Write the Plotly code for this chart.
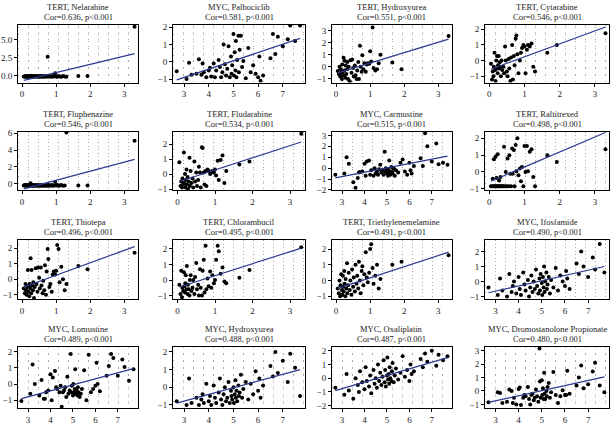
import plotly.graph_objects as go

# ---------------- data ----------------
titles = ["TERT, Nelarabine", "MYC, Palbociclib", "TERT, Hydroxyurea", "TERT, Cytarabine",
          "TERT, Fluphenazine", "TERT, Fludarabine", "MYC, Carmustine", "TERT, Raltitrexed",
          "TERT, Thiotepa", "TERT, Chlorambucil", "TERT, Triethylenemelamine", "MYC, Ifosfamide",
          "MYC, Lomustine", "MYC, Hydroxyurea", "MYC, Oxaliplatin", "MYC, Dromostanolone Propionate"]
stats = ["Cor=0.636, p<0.001", "Cor=0.581, p<0.001", "Cor=0.551, p<0.001", "Cor=0.546, p<0.001",
         "Cor=0.546, p<0.001", "Cor=0.534, p<0.001", "Cor=0.515, p<0.001", "Cor=0.498, p<0.001",
         "Cor=0.496, p<0.001", "Cor=0.495, p<0.001", "Cor=0.491, p<0.001", "Cor=0.490, p<0.001",
         "Cor=0.489, p<0.001", "Cor=0.488, p<0.001", "Cor=0.487, p<0.001", "Cor=0.480, p<0.001"]
gene = ["TERT", "MYC", "TERT", "TERT", "TERT", "TERT", "MYC", "TERT",
        "TERT", "TERT", "TERT", "MYC", "MYC", "MYC", "MYC", "MYC"]

tert_x = [0.05, 0.08, 0.10, 0.12, 0.13, 0.15, 0.17, 0.18, 0.20, 0.21, 0.22, 0.24, 0.25, 0.27, 0.28,
          0.30, 0.32, 0.33, 0.35, 0.37, 0.40, 0.42, 0.45, 0.47, 0.50, 0.52, 0.55, 0.57, 0.60, 0.62,
          0.65, 0.67, 0.70, 0.72, 0.75, 0.77, 0.80, 0.83, 0.87, 0.90, 0.93, 0.97, 1.00, 1.03, 1.07,
          1.10, 1.15, 1.20, 1.25, 1.30, 1.65, 1.92, 3.30]
myc_x = [2.7, 3.1, 3.2, 3.3, 3.5, 3.6, 3.7, 3.75, 3.8, 3.9, 4.0, 4.05, 4.1, 4.2, 4.25, 4.3, 4.4,
         4.45, 4.5, 4.55, 4.6, 4.65, 4.7, 4.75, 4.8, 4.85, 4.9, 4.92, 4.95, 5.0, 5.02, 5.05, 5.08,
         5.1, 5.12, 5.15, 5.2, 5.22, 5.25, 5.3, 5.35, 5.4, 5.5, 5.6, 5.7, 5.8, 5.9, 6.0, 6.05, 6.1,
         6.2, 6.5, 6.6, 6.7, 6.8, 7.0, 7.2, 7.3, 7.5, 7.7]

y_nelarabine = [-0.15, -0.2, -0.1, -0.15, -0.2, -0.1, -0.15, -0.2, -0.1, -0.15, -0.2, -0.1, -0.15, -0.2,
                -0.1, -0.15, -0.2, -0.1, -0.15, -0.2, -0.1, -0.15, -0.2, -0.1, -0.15, -0.2, -0.1, -0.15,
                -0.2, -0.1, -0.15, -0.2, -0.1, -0.15, 2.6, -0.2, -0.1, -0.15, -0.2, -0.1, -0.15, 0.3,
                -0.15, -0.2, -0.1, -0.15, -0.2, -0.1, -0.15, -0.2, -0.1, -0.1, 6.8]
y_palbociclib = [-0.55, -1.0, -0.05, -0.75, -0.7, 0.15, -0.75, -0.1, -0.6, -0.9, -0.5, -0.35, -0.85,
                 -0.1, -0.9, -0.5, 0.1, -0.3, -0.9, -0.6, 1.0, -0.15, -0.8, -0.4, 0.9, -0.9, 0.3, -0.7,
                 -0.2, 1.6, -0.8, 0.55, -0.5, 1.2, -0.9, 0.1, 1.5, -0.6, 0.7, 1.5, -0.3, 0.05, -0.95,
                 0.8, -0.6, -0.2, -0.7, -0.9, 0.3, -1.1, -0.8, 0.2, 1.6, 0.45, 1.45, 0.9, 1.3, 2.1,
                 1.2, 2.1]
y_hydroxyurea_t = [-0.35, -0.6, 0.0, -0.8, -0.2, -0.5, -1.0, 0.2, -0.4, -0.7, 0.75, -0.3, 0.5, -0.9,
                   0.1, -0.6, -0.2, 0.4, -1.0, 0.0, -1.2, 0.55, -0.5, 0.6, -0.1, -0.8, 0.1, -0.7, -1.0,
                   -0.3, 0.4, -1.0, 1.75, 0.0, -0.4, 0.95, -0.2, 0.3, -0.4, 0.2, 0.3, 0.25, 1.3, 0.45,
                   3.25, -0.1, -0.3, -0.2, 0.3, 1.0, 0.35, -0.2, 2.55]
y_cytarabine = [-0.2, -1.2, -0.7, -1.0, -0.4, 0.5, -0.6, -1.3, 0.0, -0.5, 0.3, -0.8, -0.3, 0.3, -0.5,
                -0.1, -0.4, -1.0, 0.0, -0.6, -0.4, -0.8, 0.9, 0.0, -0.7, -1.0, 0.1, -0.5, -1.3, 0.2,
                1.0, -1.2, 0.3, -0.3, 1.4, 1.6, 0.4, -0.8, 0.0, 0.5, 0.8, 1.0, 0.9, -0.8, 0.7, 1.0,
                0.9, 1.1, -0.4, -0.7, 0.5, 1.0, 1.75]
y_fluphenazine = [-0.2, -0.15, -0.25, -0.2, -0.15, -0.25, -0.2, -0.15, -0.25, -0.2, -0.15, -0.25, 0.05,
                  -0.2, -0.15, -0.25, -0.2, -0.15, -0.25, -0.2, -0.15, -0.25, -0.2, -0.15, -0.25, -0.2,
                  -0.15, -0.25, -0.2, -0.15, -0.25, -0.2, -0.15, -0.25, -0.2, -0.15, -0.25, -0.2, -0.15,
                  -0.25, -0.2, 0.2, -0.2, -0.15, -0.25, -0.2, -0.15, -0.25, -0.2, 6.1, -0.2, -0.2, 5.1]
y_fludarabine = [0.8, -0.8, -0.5, -0.9, -0.3, -0.7, 1.45, -0.6, 0.0, -0.9, -0.4, 0.3, -0.7, -0.2, -1.0,
                 -0.5, 1.1, -0.8, 0.2, -0.6, -0.3, -0.9, 0.85, -0.5, 0.1, -0.8, -0.4, 0.5, 0.1, -0.9,
                 1.8, 1.75, 0.1, -0.7, 0.2, -0.8, 0.3, 0.2, 0.0, 0.1, 0.2, 0.1, 0.3, -0.1, 0.9, -0.4,
                 0.95, 1.25, -0.6, 0.2, 0.65, 0.85, 2.7]
y_carmustine = [-0.6, -0.5, 1.0, 0.4, -1.3, -1.8, -0.9, -0.4, -0.35, -0.3, 0.4, -0.7, 0.6, 0.7, -0.6,
                -0.2, -0.7, 0.0, -0.5, -0.3, -0.6, -0.1, 0.3, -0.4, -0.2, -0.6, 1.5, -0.3, 0.0, -0.5,
                -0.1, -0.7, -0.2, 0.7, -0.4, -0.6, 0.1, -0.3, -0.5, 0.0, -0.7, -0.2, -0.4, 0.5, 0.8,
                -0.3, -0.6, 0.5, -0.2, -0.5, 0.2, 0.9, 0.2, 3.2, 2.0, 0.6, 2.25, 0.35, 0.5, 0.3]
y_raltitrexed = [-0.85, -0.85, -0.4, -0.85, 0.75, -0.85, -0.85, 0.9, -0.85, -0.35, -0.85, 1.05, -0.85,
                 -0.85, -0.5, -0.85, -0.3, -0.85, -0.85, -0.85, -0.85, 1.5, -0.85, 0.0, -0.85, 0.8,
                 -0.85, 1.0, -0.1, -0.85, 1.4, -0.1, 1.3, -0.85, 1.6, 0.05, 2.0, -0.2, 0.2, -0.55, 0.3,
                 -0.85, 1.55, 0.0, 1.55, 0.05, 1.2, 1.35, -0.3, -0.85, 1.0, 0.6, 1.35]
y_thiotepa = [-0.6, -0.9, -0.3, -0.7, -1.0, -0.5, 0.6, -0.8, -0.4, -1.1, -0.3, -0.6, 1.35, -0.9, 0.6,
              -0.4, -0.7, -0.2, -1.2, -0.5, 0.7, -0.3, -0.8, 0.75, 0.1, -0.6, 0.75, -0.4, -0.9, -0.1,
              -0.7, 0.9, -1.0, 0.5, 1.95, 1.3, -0.5, -0.3, -0.8, 0.3, 0.5, 0.3, 0.55, 2.2, 1.95, -0.2,
              0.8, 0.0, -0.7, -0.3, 0.85, 0.65, 1.7]
y_chlorambucil = [-0.3, -0.9, 0.6, -1.1, -0.5, -0.7, 0.5, -0.4, -0.8, -0.2, 0.3, -0.6, 0.9, -0.9, -0.3,
                  -0.6, -1.0, 0.0, 0.3, -0.7, -0.5, 0.0, -0.9, 0.2, 1.1, -0.6, -0.3, -1.0, 0.7, -0.5,
                  -1.0, 0.6, 1.3, -0.8, 2.2, -0.6, 0.1, -0.4, 0.55, -0.5, 0.3, -0.2, 0.0, 1.3, 2.2, 1.85,
                  0.4, 0.8, -0.1, -0.2, 0.15, 0.65, 2.1]
y_triethylenemelamine = [-0.5, -0.8, 0.0, -1.0, -0.3, 0.4, -0.6, -0.9, 0.3, -0.4, -0.7, 0.6, -0.2, -1.0,
                         0.1, -0.5, 1.1, -0.8, -0.3, 0.5, -0.6, 0.0, -0.9, 0.7, -0.4, 0.2, -0.7, 1.0,
                         -0.2, 0.3, -0.5, 1.2, 0.0, -0.8, 0.6, 0.9, -0.3, 0.4, 1.8, 0.2, -0.1, 0.5, 2.0,
                         2.3, 0.8, -0.2, 0.3, 1.0, -0.5, 0.1, 1.0, 1.2, 1.6]
y_ifosfamide = [-0.4, -0.9, 0.2, -0.6, -1.0, 0.5, -0.7, -0.3, 0.0, -0.8, 0.3, -0.5, -0.9, 0.6, -0.2,
                -0.6, 0.1, -1.0, -0.4, 0.4, -0.7, 0.0, -0.5, 0.8, -0.3, -0.8, 0.2, -0.6, 0.5, -0.1,
                -0.9, 0.3, -0.4, 1.0, -0.7, 0.0, 0.6, -0.5, -0.2, 0.3, -0.8, 0.1, -0.4, 0.9, -0.6, 0.4,
                0.0, -0.3, 0.7, 0.2, -0.5, 1.2, 0.5, 2.0, 1.0, 0.3, 1.6, 0.8, 2.5, 0.6]
y_lomustine = [-1.05, -0.6, 1.2, 0.0, -0.7, 0.25, -0.9, -0.9, -0.5, -0.4, 0.6, -1.0, 0.4, 0.8, -0.2,
               -0.3, -0.5, -0.1, -1.4, -0.5, -0.4, -0.2, -0.8, 0.45, -0.6, -0.4, 1.85, -0.5, -0.1,
               -0.7, 0.0, -0.5, -0.3, 0.9, -0.6, -0.4, -0.7, -0.2, -0.5, -0.8, -0.6, -0.3, 0.85, -1.0,
               1.8, -0.5, -0.3, -0.1, 1.3, 0.0, -0.45, 0.5, 1.1, 1.85, 1.6, 0.5, 1.5, 1.05, 0.2, 0.9]
y_hydroxyurea_m = [-0.8, -1.0, 0.5, -0.9, -0.6, -1.0, -0.7, -0.4, -0.9, 0.2, -0.8, -0.5, -1.0, 0.1,
                   -0.6, -0.9, -0.3, 0.5, -0.7, -1.0, -0.4, 0.0, -0.8, -0.6, 0.3, -0.9, -0.2, -0.5,
                   -0.7, 0.0, -0.9, -0.4, 0.4, -0.6, -0.2, -0.8, 0.1, -0.5, -0.3, 0.7, -0.6, -0.1, 0.3,
                   -0.7, 0.2, -0.4, 0.9, -0.2, 0.5, -0.6, 0.1, 1.2, 0.6, 2.0, 0.8, 1.5, 0.3, 1.9, 1.1,
                   -0.5]
y_oxaliplatin = [-0.7, -1.2, 0.3, -0.9, -1.5, 0.0, -0.5, -1.0, 0.5, -0.3, -0.8, 0.8, -0.2, -0.6, 0.2,
                 -1.1, 0.6, -0.4, 0.0, -0.7, 1.0, -0.2, 0.4, -0.5, 0.1, 1.3, -0.3, 0.6, -0.6, 0.2, 1.5,
                 -0.1, 0.3, -0.4, 0.8, 0.0, -0.2, 0.5, 1.1, -0.3, 0.2, 0.7, -0.1, 0.4, 1.6, 0.1, 0.6,
                 -0.2, 1.0, 0.3, 0.5, 1.4, 0.8, 1.8, 1.2, 2.0, 0.9, 1.7, 1.3, 1.6]
y_dromostanolone = [-0.85, -0.1, -0.15, -0.9, -0.8, 0.1, 0.0, -0.9, -0.5, -1.0, 0.15, 0.25, -1.05, -0.5,
                    -0.3, -0.4, 0.3, -0.6, -1.0, -0.3, -0.2, -0.7, -0.5, 0.1, -0.4, -0.8, 3.15, 0.7,
                    -0.5, 0.8, -0.3, 0.2, -0.6, 1.35, -0.2, -0.6, 0.0, -0.4, 0.3, 0.6, -0.5, -0.1, 1.4,
                    -0.3, -0.9, -0.4, 0.05, -0.3, -0.3, 1.5, -0.2, 0.4, 1.0, 1.9, 0.2, 0.5, 1.45, 2.1,
                    0.4, -0.1]

y_values = [y_nelarabine, y_palbociclib, y_hydroxyurea_t, y_cytarabine,
            y_fluphenazine, y_fludarabine, y_carmustine, y_raltitrexed,
            y_thiotepa, y_chlorambucil, y_triethylenemelamine, y_ifosfamide,
            y_lomustine, y_hydroxyurea_m, y_oxaliplatin, y_dromostanolone]

# regression line end values (at min and max of x)
fit_y0 = [-0.7, -1.05, -0.5, -0.55, -0.6, -0.5, -0.9, -0.55, -0.5, -0.45, -0.5, -0.75, -0.9, -0.9, -0.9, -0.85]
fit_y1 = [3.05, 1.35, 2.3, 2.15, 2.9, 2.15, 1.1, 2.35, 2.1, 2.05, 1.8, 1.0, 0.95, 1.0, 1.5, 1.05]

y_ranges = [[-1.0, 7.1], [-1.2, 2.15], [-1.3, 3.5], [-1.4, 2.3],
            [-0.8, 6.2], [-1.1, 2.85], [-2.05, 3.35], [-1.1, 2.4],
            [-1.3, 2.55], [-1.25, 2.6], [-1.2, 2.6], [-1.2, 2.8],
            [-1.5, 2.3], [-1.2, 2.3], [-2.2, 2.3], [-1.3, 3.3]]
y_ticks = [[0, 2.5, 5], [-1, 0, 1, 2], [-1, 0, 1, 2, 3], [-1, 0, 1, 2],
           [0, 2, 4, 6], [-1, 0, 1, 2], [-2, -1, 0, 1, 2, 3], [-1, 0, 1, 2],
           [-1, 0, 1, 2], [-1, 0, 1, 2], [-1, 0, 1, 2], [-1, 0, 1, 2],
           [-1, 0, 1, 2], [-1, 0, 1, 2], [-2, -1, 0, 1, 2], [-1, 0, 1, 2, 3]]
y_ticklabels_p1 = ["0.0", "2.5", "5.0"]

# ---------------- layout geometry (pixels) ----------------
W, H = 612, 436
col_px = [(18, 138), (173, 305), (332, 452), (485, 609)]
row_px = [(22, 81), (131, 191), (241, 302), (350, 413)]

FONT = "Liberation Serif"
fig = go.Figure()
annotations = []

for i in range(16):
    r, c = divmod(i, 4)
    ax = "" if i == 0 else str(i + 1)
    xs = tert_x if gene[i] == "TERT" else myc_x
    ys = y_values[i]
    fig.add_trace(go.Scatter(x=xs, y=ys, mode="markers",
                             marker=dict(color="black", size=4),
                             xaxis="x" + ax, yaxis="y" + ax, showlegend=False, hoverinfo="skip"))
    fig.add_trace(go.Scatter(x=[min(xs), max(xs)], y=[fit_y0[i], fit_y1[i]], mode="lines",
                             line=dict(color="#2B3990", width=1.2),
                             xaxis="x" + ax, yaxis="y" + ax, showlegend=False, hoverinfo="skip"))
    x0, x1 = col_px[c]
    y0, y1 = row_px[r]
    if gene[i] == "TERT":
        xr = [-0.12, 3.4]
        xt = [0, 1, 2, 3]
    else:
        xr = [2.55, 7.9]
        xt = [3, 4, 5, 6, 7]
    yr = y_ranges[i]
    span = yr[1] - yr[0]
    ydt = span * 7.0 / (y1 - y0)
    xdt = (xr[1] - xr[0]) * 10.0 / (x1 - x0)
    common = dict(showline=True, linecolor="black", linewidth=1, mirror=True,
                  ticks="outside", ticklen=3, tickcolor="black", tickwidth=1,
                  tickfont=dict(family=FONT, size=9, color="#222"), zeroline=False,
                  showgrid=False)
    xa = dict(common, domain=[x0 / W, x1 / W], range=xr, tickvals=xt,
              anchor="y" + ax,
              minor=dict(showgrid=True, dtick=xdt, tick0=xr[0], gridcolor="#a8a8a8",
                         griddash="1px,6px", gridwidth=1, ticks=""))
    ya = dict(common, domain=[1 - y1 / H, 1 - y0 / H], range=yr, tickvals=y_ticks[i],
              anchor="x" + ax,
              minor=dict(showgrid=True, dtick=ydt, tick0=yr[0], gridcolor="#a8a8a8",
                         griddash="1px,9px", gridwidth=1, ticks=""))
    if i == 0:
        ya["ticktext"] = y_ticklabels_p1
    fig.update_layout(**{"xaxis" + ax: xa, "yaxis" + ax: ya})
    cx = (x0 + x1) / 2 / W
    annotations.append(dict(x=cx, y=1 - (y0 - 18) / H, xref="paper", yref="paper",
                            text=titles[i], showarrow=False, xanchor="center", yanchor="middle",
                            font=dict(family=FONT, size=8.5, color="#222")))
    annotations.append(dict(x=cx, y=1 - (y0 - 8) / H, xref="paper", yref="paper",
                            text=stats[i], showarrow=False, xanchor="center", yanchor="middle",
                            font=dict(family=FONT, size=8.5, color="#222")))

fig.update_layout(width=W, height=H, margin=dict(l=0, r=0, t=0, b=0),
                  paper_bgcolor="white", plot_bgcolor="white",
                  annotations=annotations)
fig.write_html("out.html", config={"displayModeBar": False},
               post_script="document.body.style.margin='0';document.body.style.overflow='hidden';")
